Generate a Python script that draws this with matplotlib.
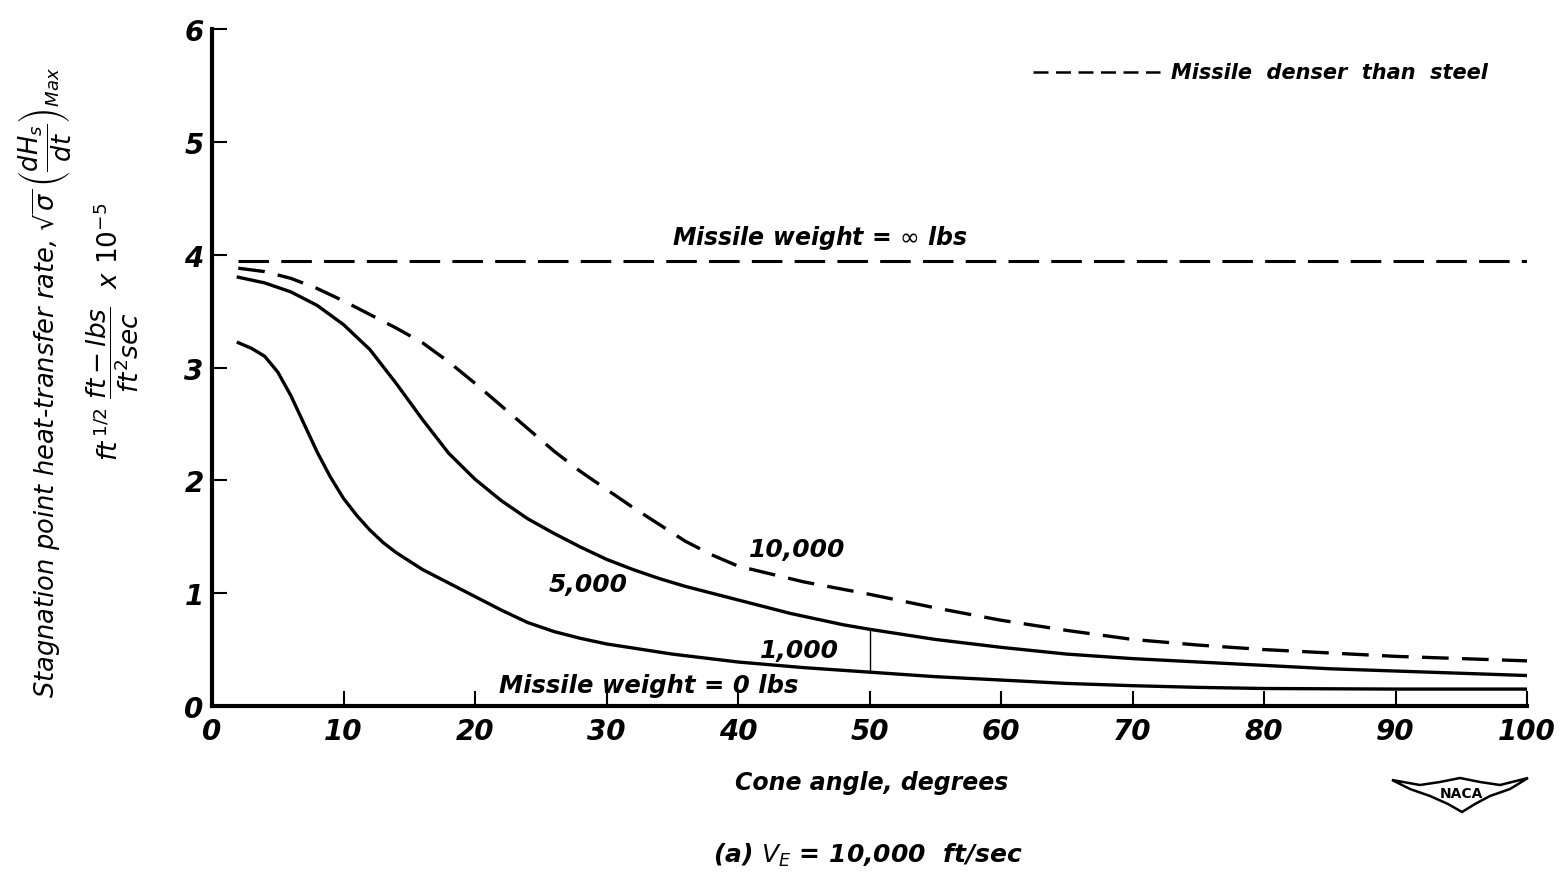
import matplotlib
matplotlib.use("Agg")
import matplotlib.pyplot as plt
from matplotlib.patches import Polygon
import numpy as np

# ---- data (cone angle in degrees, heat-transfer rate x 1e-5) ----
x_inf = [2, 100]
y_inf = [3.94, 3.94]

x_10000 = [2, 4, 6, 8, 10, 12, 14, 16, 18, 20, 22, 24, 26, 28, 30, 32, 34, 36, 38, 40,
           45, 50, 55, 60, 65, 70, 75, 80, 85, 90, 95, 100]
y_10000 = [3.88, 3.85, 3.79, 3.70, 3.59, 3.47, 3.35, 3.22, 3.05, 2.86, 2.66, 2.46, 2.26,
           2.08, 1.92, 1.76, 1.61, 1.46, 1.34, 1.24, 1.10, 0.99, 0.87, 0.76, 0.67, 0.59,
           0.54, 0.50, 0.47, 0.44, 0.42, 0.40]

x_5000 = [2, 4, 6, 8, 10, 12, 14, 16, 18, 20, 22, 24, 26, 28, 30, 32, 34, 36, 38, 40,
          42, 44, 46, 48, 50, 55, 60, 65, 70, 75, 80, 85, 90, 95, 100]
y_5000 = [3.80, 3.75, 3.67, 3.55, 3.38, 3.16, 2.86, 2.54, 2.24, 2.01, 1.82, 1.66, 1.53,
          1.41, 1.30, 1.21, 1.13, 1.06, 1.00, 0.94, 0.88, 0.82, 0.77, 0.72, 0.68, 0.59,
          0.52, 0.46, 0.42, 0.39, 0.36, 0.33, 0.31, 0.29, 0.27]

x_1000 = [2, 3, 4, 5, 6, 7, 8, 9, 10, 11, 12, 13, 14, 16, 18, 20, 22, 24, 26, 28, 30,
          35, 40, 45, 50, 55, 60, 65, 70, 75, 80, 90, 100]
y_1000 = [3.22, 3.17, 3.10, 2.96, 2.75, 2.50, 2.25, 2.03, 1.84, 1.69, 1.56, 1.45, 1.36,
          1.21, 1.09, 0.97, 0.85, 0.74, 0.66, 0.60, 0.55, 0.46, 0.39, 0.34, 0.30, 0.26,
          0.23, 0.20, 0.18, 0.165, 0.155, 0.15, 0.15]

x_ticks = list(range(0, 101, 10))
x_ticklabels = ["0", "10", "20", "30", "40", "50", "60", "70", "80", "90", "100"]
y_ticks = [0, 1, 2, 3, 4, 5, 6]

plt.rcParams["font.family"] = ["DejaVu Sans"]
plt.rcParams["mathtext.fontset"] = "dejavusans"
plt.rcParams["mathtext.default"] = "it"

W, H = 1568, 878
fig = plt.figure(figsize=(W / 100, H / 100), dpi=100)
ax = fig.add_axes([212 / W, 1 - 707 / H, (1527 - 212) / W, (707 - 30) / H])
ax.set_xlim(0, 100)
ax.set_ylim(0, 6)

lbl = dict(style="italic", fontweight="bold", color="black")

# curves
ax.plot(x_inf, y_inf, color="black", lw=2.2, linestyle=(0, (10, 4)), solid_capstyle="butt")
ax.plot(x_10000, y_10000, color="black", lw=2.4, linestyle=(0, (8, 4)))
ax.plot(x_5000, y_5000, color="black", lw=2.4)
ax.plot(x_1000, y_1000, color="black", lw=2.4)
ax.vlines(100, 0, y_1000[-1], color="black", lw=2.0)
ax.vlines(50, np.interp(50, x_1000, y_1000), np.interp(50, x_5000, y_5000),
          color="black", lw=1.0)

# curve labels
ax.text(46.2, 4.16, "Missile weight = $\\infty$ lbs", fontsize=17, ha="center", va="center", **lbl)
ax.text(44.5, 1.39, "10,000", fontsize=18, ha="center", va="center", **lbl)
ax.text(28.6, 1.08, "5,000", fontsize=18, ha="center", va="center", **lbl)
ax.text(44.7, 0.50, "1,000", fontsize=18, ha="center", va="center", **lbl)
ax.text(33.2, 0.19, "Missile weight = 0 lbs", fontsize=17.5, ha="center", va="center", **lbl)

# legend key
ax.plot([62.4, 72.1], [5.62, 5.62], color="black", lw=1.8, linestyle=(0, (6, 3)),
        clip_on=False)
ax.text(72.9, 5.62, "Missile  denser  than  steel", fontsize=15, ha="left", va="center", **lbl)

# axes styling
for side in ("top", "right"):
    ax.spines[side].set_visible(False)
ax.spines["left"].set_linewidth(3)
ax.spines["bottom"].set_linewidth(3)
ax.set_xticks(x_ticks)
ax.set_xticklabels(x_ticklabels)
ax.set_yticks(y_ticks)
ax.tick_params(direction="in", length=11, width=1.5, labelsize=20)
ax.tick_params(axis="x", pad=8)
ax.tick_params(axis="y", pad=6)
for t in ax.get_xticklabels() + ax.get_yticklabels():
    t.set_style("italic")
    t.set_fontweight("bold")

fig.text(872 / W, 1 - 783 / H, "Cone angle, degrees", fontsize=17, ha="center", va="center", **lbl)
fig.text(868 / W, 1 - 855 / H, "(a) $V_E$ = 10,000  ft/sec", fontsize=18, ha="center",
         va="center", **lbl)

fig.text(45 / W, 1 - 382 / H,
         "Stagnation point heat-transfer rate, "
         "$\\sqrt{\\sigma}\\,\\left(\\dfrac{dH_s}{dt}\\right)_{Max}$",
         fontsize=18.5, rotation=90, ha="center", va="center", style="italic")
fig.text(113 / W, 1 - 332 / H,
         "$ft^{\\,1/2}\\ \\dfrac{ft - lbs}{ft^{2} sec}\\ \\ x\\ 10^{-5}$",
         fontsize=19, rotation=90, ha="center", va="center")

# NACA wing badge
wing_px = [(1392, 781), (1420, 786), (1440, 783), (1460, 779), (1480, 783), (1500, 786),
           (1528, 779), (1510, 790), (1490, 797), (1475, 805), (1462, 813), (1448, 805),
           (1430, 797), (1410, 790)]
wing = Polygon([(px / W, 1 - py / H) for px, py in wing_px], closed=True,
               transform=fig.transFigure, fill=False, edgecolor="black", lw=1.8)
fig.add_artist(wing)
fig.text(1461 / W, 1 - 794 / H, "NACA", fontsize=10, ha="center", va="center",
         fontweight="bold")

fig.savefig("out.png", dpi=100)
